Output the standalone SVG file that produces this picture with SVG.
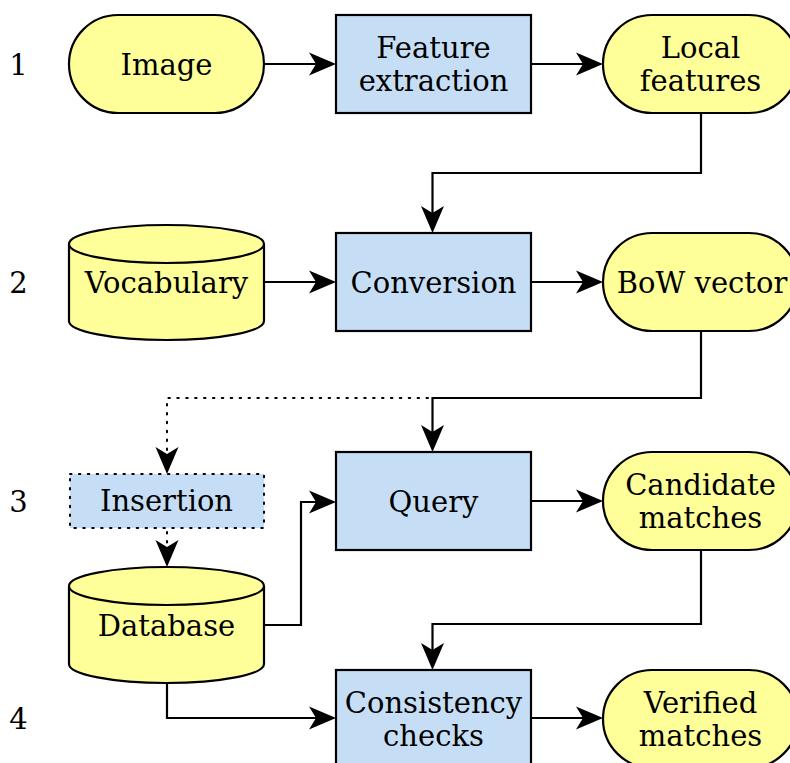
<svg xmlns="http://www.w3.org/2000/svg" width="790" height="763" viewBox="0 0 790 763">
  <style>
    text { font-family: "DejaVu Serif", "Liberation Serif", serif; font-size: 29px; fill: #000; text-anchor: middle; }
    .data { fill: #ffff99; stroke: #000; stroke-width: 2.2; }
    .proc { fill: #c6def5; stroke: #000; stroke-width: 2.2; }
    .proc-opt { fill: #c6def5; stroke: #000; stroke-width: 2; stroke-dasharray: 1.5 7.4; stroke-linecap: round; }
    .edge { fill: none; stroke: #000; stroke-width: 2.2; marker-end: url(#arrow); }
    .edge-opt { fill: none; stroke: #000; stroke-width: 2; stroke-dasharray: 1.5 7.4; stroke-linecap: round; marker-end: url(#arrow); }
  </style>
  <defs>
    <marker id="arrow" markerUnits="userSpaceOnUse" viewBox="-10 -14 34 28" markerWidth="34" markerHeight="28" refX="0" refY="0" orient="auto" overflow="visible">
      <path d="M20,0 L-7,-11.5 L0,0 L-7,11.5 Z" fill="#000"/>
    </marker>
  </defs>

  <rect width="790" height="763" fill="#fff"/>

  <!-- stage numbers -->
  <g id="stage-labels">
    <text x="18.5" y="75">1</text>
    <text x="18.5" y="293">2</text>
    <text x="18.5" y="512">3</text>
    <text x="18.5" y="729">4</text>
  </g>

  <!-- connectors -->
  <g id="connectors">
    <path class="edge" d="M264,64 H316"/>
    <path class="edge" d="M531,64 H583"/>
    <path class="edge" d="M701,113 V173 H432.5 V213"/>
    <path class="edge" d="M264,282 H316"/>
    <path class="edge" d="M531,282 H583"/>
    <path class="edge" d="M701,331 V398 H432.5 V432"/>
    <path class="edge-opt" d="M428,398 H167 V454"/>
    <path class="edge-opt" d="M167,532 V547"/>
    <path class="edge" d="M264,625 H301 V502 H316"/>
    <path class="edge" d="M167,683 V718 H316"/>
    <path class="edge" d="M531,501 H583"/>
    <path class="edge" d="M701,551 V624 H432.5 V650"/>
    <path class="edge" d="M531,718 H583"/>
  </g>

  <!-- row 1 -->
  <g id="image">
    <rect class="data" x="69" y="15" width="195" height="98" rx="49" ry="49"/>
    <text x="166.5" y="75">Image</text>
  </g>
  <g id="feature-extraction">
    <rect class="proc" x="336" y="15" width="195" height="98"/>
    <text x="433.5" y="58">Feature</text>
    <text x="433.5" y="91">extraction</text>
  </g>
  <g id="local-features">
    <rect class="data" x="603" y="15" width="195" height="98" rx="49" ry="49"/>
    <text x="700.5" y="58">Local</text>
    <text x="700.5" y="91">features</text>
  </g>

  <!-- row 2 -->
  <g id="vocabulary">
    <path class="data" d="M69,244 A97.5,19 0 0 1 264,244 V321 A97.5,19 0 0 1 69,321 Z"/>
    <path class="data" fill="none" d="M69,244 A97.5,19 0 0 0 264,244"/>
    <text x="166.5" y="293">Vocabulary</text>
  </g>
  <g id="conversion">
    <rect class="proc" x="336" y="233" width="195" height="98"/>
    <text x="433.5" y="293">Conversion</text>
  </g>
  <g id="bow-vector">
    <rect class="data" x="603" y="233" width="195" height="98" rx="49" ry="49"/>
    <text x="702" y="293">BoW vector</text>
  </g>

  <!-- row 3 -->
  <g id="insertion">
    <rect class="proc-opt" x="70" y="474" width="194" height="54"/>
    <text x="166.5" y="511">Insertion</text>
  </g>
  <g id="query">
    <rect class="proc" x="336" y="452" width="195" height="98"/>
    <text x="433.5" y="512">Query</text>
  </g>
  <g id="candidate-matches">
    <rect class="data" x="603" y="452" width="195" height="98" rx="49" ry="49"/>
    <text x="700.5" y="495">Candidate</text>
    <text x="700.5" y="528">matches</text>
  </g>
  <g id="database">
    <path class="data" d="M69,586 A97.5,19 0 0 1 264,586 V664 A97.5,19 0 0 1 69,664 Z"/>
    <path class="data" fill="none" d="M69,586 A97.5,19 0 0 0 264,586"/>
    <text x="166.5" y="636">Database</text>
  </g>

  <!-- row 4 -->
  <g id="consistency-checks">
    <rect class="proc" x="336" y="670" width="195" height="98"/>
    <text x="433.5" y="713">Consistency</text>
    <text x="433.5" y="746">checks</text>
  </g>
  <g id="verified-matches">
    <rect class="data" x="603" y="670" width="195" height="98" rx="49" ry="49"/>
    <text x="700.5" y="713">Verified</text>
    <text x="700.5" y="746">matches</text>
  </g>
</svg>
